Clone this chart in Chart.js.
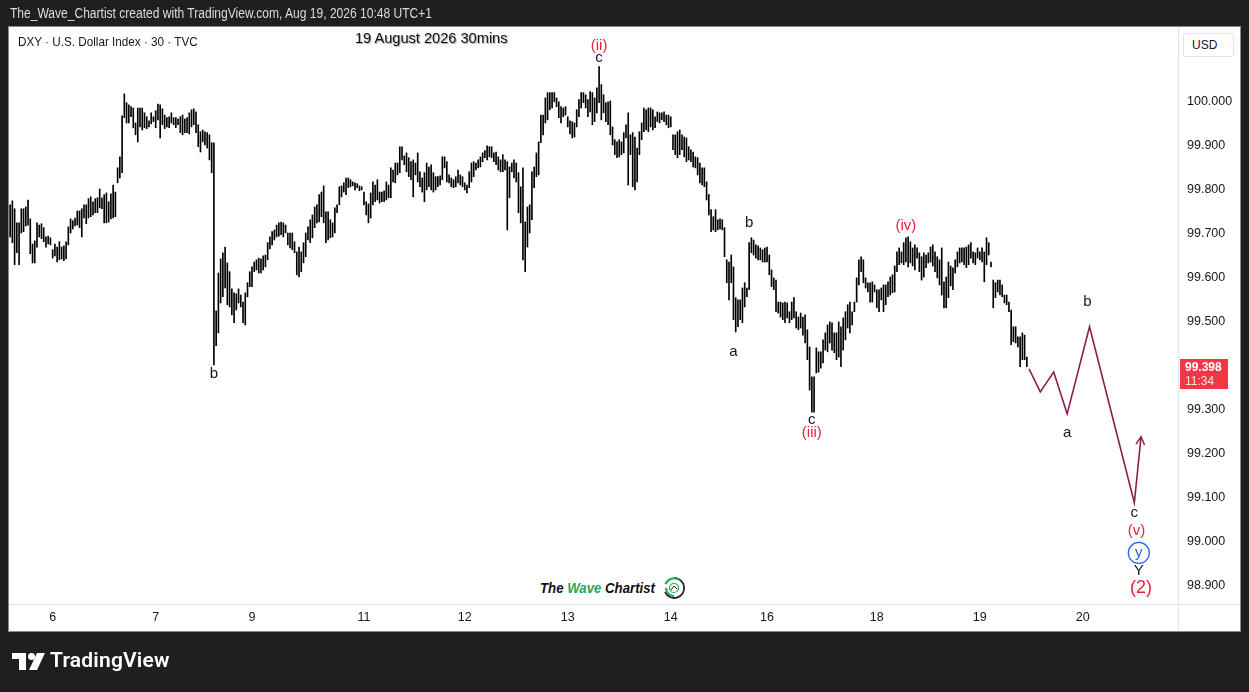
<!DOCTYPE html>
<html><head><meta charset="utf-8">
<script src="https://cdn.jsdelivr.net/npm/chart.js@4.4.1/dist/chart.umd.min.js"></script>
<style>
html,body{margin:0;padding:0;background:#1f1f1f;width:1249px;height:692px;overflow:hidden;}
#wrap{position:relative;width:1249px;height:692px;}
canvas{position:absolute;left:0;top:0;}
.ov{position:absolute;white-space:nowrap;}
#hdr{left:10px;top:5px;color:#dcdcdc;font:14px "Liberation Sans",Arial,sans-serif;transform:scaleX(0.86);transform-origin:0 0;}
#sym{left:18px;top:34px;color:#131722;font:13px "Liberation Sans",Arial,sans-serif;transform:scaleX(0.9);transform-origin:0 0;}
#ttl{left:355px;top:30px;color:#111;font:14.6px "Liberation Sans",Arial,sans-serif;text-shadow:1px 1px 1px #a0a0a0;}
#usd{left:1183px;top:33px;width:51px;height:24px;border:1px solid #e0e3eb;border-radius:3px;box-sizing:border-box;font:12px "Liberation Sans",Arial,sans-serif;color:#131722;line-height:22px;padding-left:8px;background:#fff;}
#logo{left:531px;top:573px;width:158px;height:31px;background:#fff;}
#logo .t{position:absolute;left:9px;top:6px;font:italic bold 15px "Liberation Sans",Arial,sans-serif;color:#111;transform:scaleX(0.88);transform-origin:0 0;}
#logo .g{color:#1fa855;}
#logo svg{position:absolute;left:131px;top:3px;}
#tv{left:12px;top:650px;height:24px;}
#tv svg{position:absolute;left:0;top:3px;}
#tv span{position:absolute;left:38px;top:-2px;color:#fff;font:600 21px Roboto,"Open Sans",sans-serif;letter-spacing:0.2px;}
</style></head>
<body><div id="wrap">
<canvas id="c" width="1249" height="692"></canvas>
<div class="ov" id="hdr">The_Wave_Chartist created with TradingView.com, Aug 19, 2026 10:48 UTC+1</div>
<div class="ov" id="sym">DXY · U.S. Dollar Index · 30 · TVC</div>
<div class="ov" id="ttl">19 August 2026 30mins</div>
<div class="ov" id="usd">USD</div>
<div class="ov" id="logo"><span class="t">The <span class="g">Wave</span> Chartist</span>
<svg width="24" height="24" viewBox="0 0 24 24">
<path d="M12 2 A10 10 0 1 1 3 16" fill="none" stroke="#222" stroke-width="1.8"/>
<path d="M3.5 8 A9.5 9.5 0 0 1 17 3.5" fill="none" stroke="#1fa855" stroke-width="2"/>
<path d="M12 20 A8 8 0 0 1 4 12" fill="none" stroke="#1fa855" stroke-width="2.2"/>
<circle cx="12" cy="12" r="4.5" fill="none" stroke="#1fa855" stroke-width="1.2"/>
<path d="M9 14 L12 10 L15 13" fill="none" stroke="#222" stroke-width="1"/>
</svg></div>
<div class="ov" id="tv"><svg width="34" height="18" viewBox="0 0 34 18" fill="#fff">
<rect x="0" y="0" width="14" height="6"/><rect x="7" y="0" width="7" height="17"/>
<circle cx="19.5" cy="3.5" r="3.5"/><polygon points="25,0 33,0 25,17 17,17"/></svg><span>TradingView</span></div>
</div>
<script>
// ---- data (30-minute bars) ----
const barHigh = [
99.766,99.775,99.757,99.725,99.725,99.757,99.757,99.761,99.777,
99.734,99.677,99.684,99.725,99.720,99.723,99.714,99.693,
99.695,99.691,99.664,99.677,99.670,99.682,99.670,99.673,
99.682,99.716,99.734,99.730,99.736,99.752,99.752,99.757,
99.766,99.766,99.780,99.784,99.773,99.780,99.782,99.802,
99.782,99.789,99.793,99.773,99.791,99.811,99.795,99.850,99.875,99.968,
100.018,99.998,99.993,99.989,99.986,99.952,
99.986,99.986,99.986,99.975,99.966,99.957,99.975,99.966,
99.980,99.995,99.993,99.984,99.970,99.964,99.966,99.975,
99.964,99.964,99.961,99.966,99.970,99.961,99.964,99.975,
99.982,99.984,99.977,99.948,99.932,99.936,99.932,99.930,
99.925,99.907,99.907,99.525,99.611,99.643,99.657,99.670,99.634,99.614,
99.575,99.566,99.564,99.575,99.561,99.545,99.566,99.589,99.614,99.625,
99.636,99.641,99.645,99.643,99.650,99.652,99.680,99.693,99.705,99.709,
99.720,99.725,99.727,99.725,99.720,99.702,99.702,99.702,99.682,99.659,
99.670,99.659,99.680,99.702,99.716,99.732,99.743,99.761,99.766,99.789,
99.795,99.809,99.750,99.750,99.732,99.725,99.759,99.766,99.807,99.809,
99.816,99.827,99.827,99.823,99.818,99.816,99.814,99.809,99.807,99.795,
99.773,99.768,99.793,99.818,
99.811,99.823,99.795,99.795,99.798,99.818,99.811,99.850,99.845,99.861,
99.861,99.898,99.898,99.877,99.884,99.873,99.864,99.868,99.861,99.884,
99.841,99.827,99.839,99.861,99.852,99.857,99.839,99.830,99.830,99.832,
99.875,99.875,99.864,99.834,99.827,99.823,99.830,99.845,99.834,99.830,
99.816,99.811,99.841,99.861,99.864,99.861,99.868,99.875,99.884,99.889,
99.900,99.898,99.898,99.884,99.886,99.875,99.868,99.880,99.868,99.864,
99.852,99.861,99.868,99.861,99.839,99.807,99.850,99.727,99.761,99.766,
99.841,99.852,99.884,99.909,99.970,
99.970,100.009,100.021,100.021,100.021,100.021,100.009,100.000,99.989,99.986,
99.989,99.966,99.957,99.955,99.952,99.982,100.005,100.021,100.021,100.016,
100.005,100.023,100.021,100.009,100.032,100.080,100.039,100.016,99.998,100.000,
100.002,99.943,99.914,99.909,99.914,99.909,99.930,99.948,99.975,99.925,
99.930,99.920,99.895,99.932,99.952,99.986,99.982,99.986,99.986,99.982,
99.966,99.977,99.975,99.975,99.977,99.970,99.970,99.966,99.925,99.925,
99.932,99.936,99.925,99.920,99.918,99.898,99.891,99.886,99.875,99.873,
99.861,99.850,99.850,
99.818,99.789,99.755,99.739,99.755,99.732,99.734,99.732,99.714,99.641,
99.636,99.652,99.625,99.555,99.550,99.550,99.577,99.589,99.577,99.680,
99.691,99.686,99.675,99.673,99.668,99.664,99.668,99.670,99.652,99.618,
99.600,99.595,99.545,99.545,99.543,99.545,99.543,99.523,99.545,99.555,
99.523,99.511,99.520,99.511,99.516,99.482,99.443,99.375,99.375,99.441,
99.432,99.432,99.459,99.475,99.493,99.500,99.498,99.475,99.475,99.500,
99.489,99.509,99.523,99.539,99.545,99.523,99.545,99.600,99.641,99.648,
99.641,99.600,99.589,99.589,
99.591,99.584,99.573,99.573,99.577,99.584,99.584,99.591,99.602,99.607,
99.627,99.659,99.668,99.659,99.680,99.691,99.693,99.682,99.668,99.675,
99.668,99.657,99.648,99.657,99.652,99.657,99.670,99.675,99.659,99.648,
99.641,99.668,99.591,99.602,99.636,99.627,99.623,99.641,99.659,99.668,
99.668,99.668,99.670,99.675,99.680,99.659,99.657,99.668,99.659,99.668,
99.659,99.691,99.680,99.636,99.595,99.589,99.595,99.595,99.584,99.561,
99.561,99.545,99.527,99.489,99.489,99.466,99.466,99.475,99.470,99.420
];
const barLow = [
99.693,99.680,99.630,99.657,99.630,99.702,99.705,99.718,99.720,
99.655,99.634,99.634,99.670,99.693,99.689,99.682,99.670,
99.677,99.675,99.645,99.650,99.636,99.641,99.643,99.639,
99.643,99.675,99.702,99.711,99.718,99.720,99.714,99.693,
99.736,99.723,99.736,99.739,99.743,99.748,99.748,99.759,
99.757,99.725,99.725,99.727,99.734,99.736,99.739,99.816,99.827,99.839,
99.964,99.952,99.952,99.966,99.941,99.925,
99.909,99.943,99.936,99.941,99.939,99.943,99.950,99.955,
99.941,99.959,99.918,99.948,99.939,99.943,99.941,99.952,
99.948,99.941,99.948,99.930,99.925,99.930,99.930,99.927,
99.943,99.948,99.930,99.898,99.886,99.909,99.902,99.895,
99.868,99.839,99.402,99.446,99.475,99.543,99.557,99.577,99.539,99.534,
99.516,99.498,99.527,99.543,99.534,99.498,99.493,99.557,99.580,99.580,
99.614,99.618,99.611,99.611,99.618,99.625,99.641,99.666,99.675,99.686,
99.693,99.695,99.698,99.693,99.702,99.675,99.668,99.664,99.657,99.607,
99.602,99.614,99.634,99.648,99.686,99.680,99.691,99.714,99.725,99.727,
99.739,99.725,99.680,99.686,99.691,99.693,99.702,99.748,99.766,99.784,
99.795,99.789,99.805,99.807,99.809,99.800,99.805,99.798,99.800,99.766,
99.743,99.725,99.736,99.766,
99.773,99.777,99.770,99.773,99.773,99.777,99.782,99.782,99.818,99.816,
99.834,99.839,99.868,99.857,99.841,99.830,99.823,99.784,99.834,99.818,
99.807,99.795,99.773,99.800,99.807,99.800,99.795,99.800,99.807,99.811,
99.823,99.850,99.818,99.816,99.807,99.805,99.807,99.816,99.811,99.807,
99.800,99.793,99.805,99.818,99.830,99.845,99.850,99.852,99.864,99.873,
99.868,99.875,99.873,99.864,99.857,99.845,99.841,99.841,99.845,99.709,
99.782,99.841,99.827,99.818,99.748,99.725,99.641,99.614,99.670,99.702,
99.732,99.805,99.830,99.834,99.907,
99.925,99.952,99.959,99.982,99.986,100.000,99.989,99.964,99.952,99.966,
99.970,99.943,99.927,99.918,99.920,99.943,99.966,99.986,99.998,99.986,
99.966,99.977,99.948,99.955,99.975,99.998,99.959,99.975,99.955,99.948,
99.925,99.902,99.880,99.873,99.875,99.880,99.884,99.918,99.811,99.880,
99.807,99.800,99.818,99.880,99.914,99.932,99.936,99.932,99.943,99.936,
99.941,99.955,99.952,99.959,99.955,99.948,99.941,99.943,99.891,99.880,
99.873,99.880,99.891,99.875,99.864,99.868,99.864,99.852,99.850,99.834,
99.816,99.811,99.807,
99.777,99.743,99.705,99.709,99.705,99.709,99.711,99.709,99.648,99.589,
99.550,99.589,99.505,99.477,99.489,99.505,99.498,99.534,99.557,99.573,
99.657,99.652,99.645,99.641,99.641,99.636,99.636,99.636,99.607,99.580,
99.573,99.523,99.520,99.511,99.505,99.498,99.509,99.498,99.505,99.509,
99.486,99.482,99.486,99.470,99.452,99.414,99.345,99.295,99.295,99.384,
99.386,99.395,99.407,99.436,99.432,99.452,99.436,99.430,99.414,99.420,
99.398,99.436,99.459,99.486,99.475,99.493,99.523,99.545,99.584,99.614,
99.589,99.577,99.568,99.545,
99.545,99.568,99.532,99.523,99.550,99.523,99.539,99.557,99.561,99.566,
99.568,99.614,99.630,99.634,99.630,99.636,99.625,99.634,99.627,99.618,
99.645,99.614,99.595,99.602,99.623,99.634,99.636,99.627,99.614,99.600,
99.584,99.561,99.532,99.532,99.555,99.582,99.573,99.611,99.625,99.634,
99.636,99.630,99.623,99.630,99.645,99.634,99.630,99.645,99.641,99.636,
99.591,99.630,99.652,99.625,99.532,99.555,99.568,99.561,99.557,99.543,
99.539,99.523,99.448,99.455,99.452,99.443,99.398,99.414,99.414,99.398
];
const slotCount = 522;                       // bar slots visible on the time axis
const dayTickIndex = [19,65,108,158,203,249,295,338,387,433,479];
const dayTickText  = ['6','7','9','11','12','13','14','16','18','19','20'];
const priceTicks = [98.9,99.0,99.1,99.2,99.3,99.4,99.5,99.6,99.7,99.8,99.9,100.0];
const projIndex = [455,460,466,472,482,502,505];
const projPrice = [99.393,99.341,99.386,99.291,99.489,99.089,99.239];
const lastPrice = 99.398;
const countdownText = '11:34';
const waveText  = ['(ii)','c','b','b','a','c','(iii)','(iv)','b','a','c','(v)','y','Y','(2)'];
const waveIndex = [263,263,91,330,323,358,358,400,481,472,502,503,504,504,505];
const wavePrice = [100.127,100.100,99.382,99.725,99.432,99.277,99.248,99.718,99.545,99.248,99.066,99.025,98.975,98.934,98.895];
const waveKind  = ['red','black','black','black','black','black','red','red','black','black','black','red','circle','black','big'];

const yMin = 98.859, yMax = 100.170;

const framePlugin = {
  id:'frame',
  beforeDraw(chart){
    const c = chart.ctx; c.save();
    c.fillStyle = '#1f1f1f'; c.fillRect(0,0,chart.width,chart.height);
    c.fillStyle = '#ffffff'; c.fillRect(9,27,1231,604);
    c.strokeStyle = '#8a8a8a'; c.lineWidth = 1; c.strokeRect(8.5,26.5,1232,605);
    c.restore();
  },
  afterDraw(chart){
    const c = chart.ctx, a = chart.chartArea; c.save();
    c.strokeStyle = '#e0e3eb'; c.lineWidth = 1;
    c.beginPath(); c.moveTo(a.right+0.5,27); c.lineTo(a.right+0.5,631);
    c.moveTo(9,a.bottom+0.5); c.lineTo(1240,a.bottom+0.5); c.stroke();
    // last price tag
    const y = chart.scales.y.getPixelForValue(lastPrice);
    c.fillStyle = '#f23645'; c.fillRect(a.right+2, Math.round(y)-8, 48, 30);
    c.fillStyle = '#ffffff'; c.textBaseline = 'middle'; c.textAlign = 'left';
    c.font = 'bold 12px "Liberation Sans", Arial, sans-serif';
    c.fillText(lastPrice.toFixed(3), a.right+7, y+0.5);
    c.fillStyle = 'rgba(255,255,255,0.85)';
    c.font = '12px "Liberation Sans", Arial, sans-serif';
    c.fillText(countdownText, a.right+7, y+14.5);
    c.restore();
  }
};

const wavePlugin = {
  id:'waves',
  afterDatasetsDraw(chart){
    const c = chart.ctx, xs = chart.scales.x, ys = chart.scales.y;
    c.save();
    const n = projIndex.length;
    const x1 = xs.getPixelForValue(projIndex[n-2]), y1 = ys.getPixelForValue(projPrice[n-2]);
    const x2 = xs.getPixelForValue(projIndex[n-1]), y2 = ys.getPixelForValue(projPrice[n-1]);
    const ang = Math.atan2(y2-y1, x2-x1);
    c.strokeStyle = '#8c1d52'; c.lineWidth = 1.5;
    c.beginPath();
    c.moveTo(x2 + 9*Math.cos(ang+Math.PI-0.5), y2 + 9*Math.sin(ang+Math.PI-0.5));
    c.lineTo(x2, y2);
    c.lineTo(x2 + 9*Math.cos(ang+Math.PI+0.5), y2 + 9*Math.sin(ang+Math.PI+0.5));
    c.stroke();
    c.textAlign = 'center'; c.textBaseline = 'middle';
    for (let k=0;k<waveText.length;k++){
      const x = xs.getPixelForValue(waveIndex[k]), y = ys.getPixelForValue(wavePrice[k]);
      const kind = waveKind[k];
      let font = '15px "Liberation Sans", Arial, sans-serif', col = '#131722';
      if (kind==='red') col = '#e8213b';
      if (kind==='big') { col = '#e8213b'; font = '18px "Liberation Sans", Arial, sans-serif'; }
      if (kind==='circle') {
        col = '#2a62d8';
        c.strokeStyle = col; c.lineWidth = 1.2;
        c.beginPath(); c.arc(x, y, 10.5, 0, Math.PI*2); c.stroke();
      }
      c.font = font; c.fillStyle = col;
      c.fillText(waveText[k], x, y);
    }
    c.restore();
  }
};

const ohlc = barHigh.map((h,k)=>({x:k, y:[barLow[k], h]}));
const proj = projIndex.map((v,k)=>({x:v, y:projPrice[k]}));

new Chart(document.getElementById('c'), {
  type:'bar',
  data:{ datasets:[
    { type:'bar', data: ohlc, backgroundColor:'#000000', borderWidth:0, barThickness:1, grouped:false },
    { type:'line', data: proj, borderColor:'#8c1d52', borderWidth:1.6, pointRadius:0, tension:0, fill:false }
  ]},
  options:{
    responsive:false, animation:false, devicePixelRatio:1, events:[],
    layout:{ padding:{ left:9, top:27, right:9, bottom:61 } },
    plugins:{ legend:{display:false}, tooltip:{enabled:false} },
    scales:{
      x:{ type:'linear', min:-0.5, max:slotCount-0.5, offset:false,
          grid:{display:false, drawTicks:false}, border:{display:false},
          afterBuildTicks:(s)=>{ s.ticks = dayTickIndex.map(v=>({value:v})); },
          afterFit:(s)=>{ s.height = 27; },
          ticks:{ autoSkip:false, maxRotation:0, padding:6, color:'#131722',
                  font:{ family:'"Liberation Sans",Arial,sans-serif', size:12.5 },
                  callback:(v)=>{ const k = dayTickIndex.indexOf(v); return k>=0 ? dayTickText[k] : ''; } } },
      y:{ type:'linear', position:'right', min:yMin, max:yMax,
          grid:{display:false, drawTicks:false}, border:{display:false},
          afterBuildTicks:(s)=>{ s.ticks = priceTicks.map(v=>({value:v})); },
          afterFit:(s)=>{ s.width = 62; },
          ticks:{ padding:9, color:'#131722',
                  font:{ family:'"Liberation Sans",Arial,sans-serif', size:12.5 },
                  callback:(v)=>Number(v).toFixed(3) } }
    }
  },
  plugins:[framePlugin, wavePlugin]
});
</script>
</body></html>
